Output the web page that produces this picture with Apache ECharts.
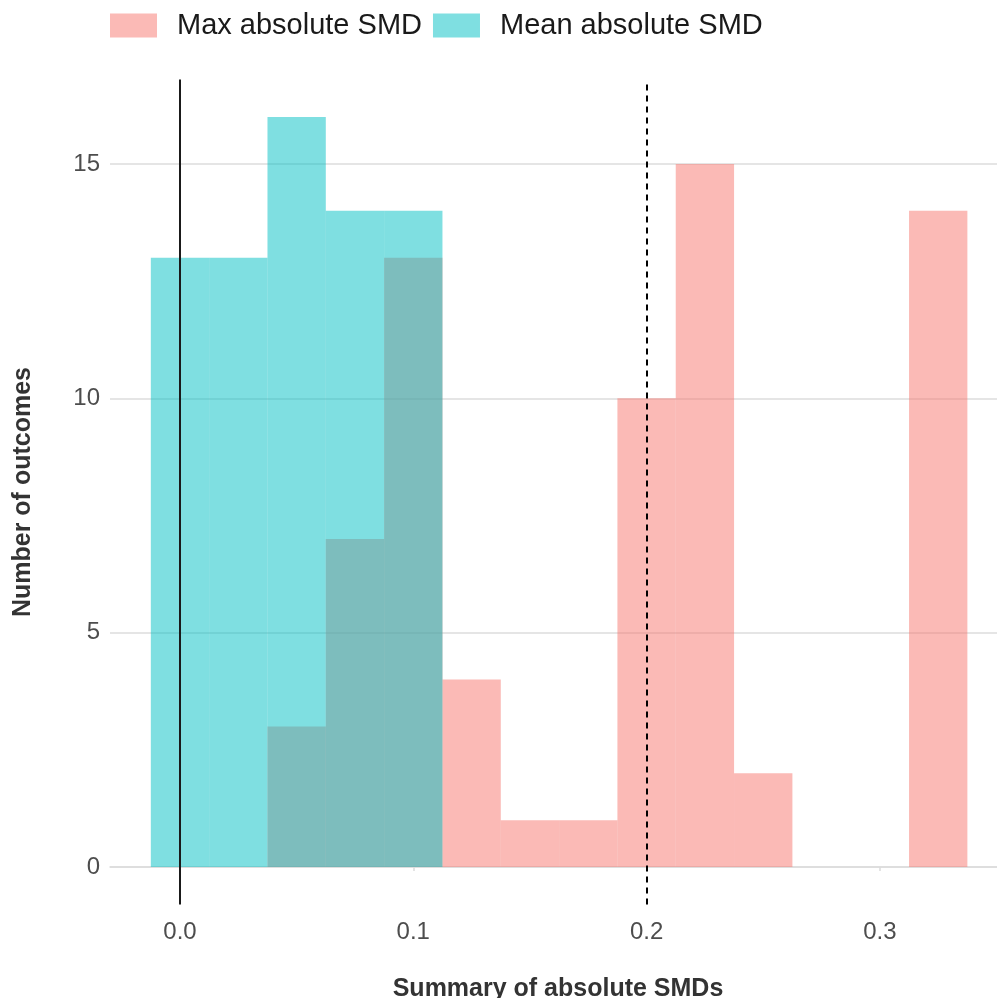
<!DOCTYPE html>
<html>
<head>
<meta charset="utf-8">
<script src="https://cdn.jsdelivr.net/npm/echarts@6/dist/echarts.min.js"></script>
<style>
  html, body { margin: 0; padding: 0; background: #fff; }
  #chart { width: 997px; height: 998px; }
</style>
</head>
<body>
<div id="chart"></div>
<script>
// histogram bins (centres), binwidth 0.025
const BIN_WIDTH = 0.025;
const maxCenters = [0.05, 0.075, 0.1, 0.125, 0.15, 0.175, 0.2, 0.225, 0.25, 0.275, 0.3, 0.325];
const maxCounts = [3, 7, 13, 4, 1, 1, 10, 15, 2, 0, 0, 14];
const meanCenters = [0, 0.025, 0.05, 0.075, 0.1];
const meanCounts = [13, 13, 16, 14, 14];

const xTicks = [0, 0.1, 0.2, 0.3];
const yTicks = [0, 5, 10, 15];
const refLines = [0, 0.2];

const seriesNames = ['Max absolute SMD', 'Mean absolute SMD'];
const FONT = '"Liberation Sans", Arial, sans-serif';

function histData(centers, counts) {
  return centers.map((c, i) => [c - BIN_WIDTH / 2, c + BIN_WIDTH / 2, counts[i]]);
}

function renderBin(params, api) {
  const x0 = api.value(0);
  const x1 = api.value(1);
  const n = api.value(2);
  if (!n) {
    return null;
  }
  const p0 = api.coord([x0, 0]);
  const p1 = api.coord([x1, n]);
  return {
    type: 'rect',
    shape: { x: p0[0], y: p1[1], width: p1[0] - p0[0], height: p0[1] - p1[1] },
    style: { fill: api.visual('color') }
  };
}

const chart = echarts.init(document.getElementById('chart'), null, { renderer: 'canvas' });

chart.setOption({
  animation: false,
  backgroundColor: '#ffffff',
  textStyle: { fontFamily: FONT },
  legend: {
    left: 110,
    top: 11,
    padding: 0,
    itemWidth: 47,
    itemHeight: 24,
    itemGap: 11,
    icon: 'rect',
    data: seriesNames,
    textStyle: { fontSize: 29, color: '#1a1a1a', fontFamily: FONT, padding: [0, 0, 0, 15] }
  },
  grid: {
    left: 110,
    right: 0,
    top: 79.6,
    bottom: 93.5,
    containLabel: false,
    outerBoundsMode: 'none'
  },
  xAxis: {
    type: 'value',
    min: -0.03,
    max: 0.3502,
    name: 'Summary of absolute SMDs',
    nameLocation: 'middle',
    nameGap: 72,
    nameTextStyle: { fontSize: 25, fontWeight: 'bold', color: '#333333', fontFamily: FONT, padding: [0, 0, 0, 9] },
    axisLine: { show: true, lineStyle: { color: '#dcdcdc', width: 1.5 } },
    axisTick: { show: true, length: 4, customValues: xTicks, lineStyle: { color: '#dcdcdc', width: 1.5 } },
    axisLabel: {
      customValues: xTicks,
      formatter: (v) => Number(v).toFixed(1),
      fontSize: 24,
      color: '#4d4d4d',
      margin: 16,
      fontFamily: FONT
    },
    splitLine: { show: false }
  },
  yAxis: {
    type: 'value',
    min: -0.8,
    max: 16.8,
    name: 'Number of outcomes',
    nameLocation: 'middle',
    nameGap: 74,
    nameRotate: 90,
    nameTextStyle: { fontSize: 25, fontWeight: 'bold', color: '#333333', fontFamily: FONT },
    axisLine: { show: false },
    axisTick: { show: false, customValues: yTicks },
    axisLabel: {
      customValues: yTicks,
      fontSize: 24,
      color: '#4d4d4d',
      margin: 10,
      fontFamily: FONT
    },
    splitLine: { show: true, lineStyle: { color: '#dcdcdc', width: 1.5 } }
  },
  series: [
    {
      name: seriesNames[0],
      type: 'custom',
      renderItem: renderBin,
      itemStyle: { color: 'rgba(248, 118, 109, 0.5)' },
      encode: { x: [0, 1], y: 2 },
      data: histData(maxCenters, maxCounts),
      z: 2
    },
    {
      name: seriesNames[1],
      type: 'custom',
      renderItem: renderBin,
      itemStyle: { color: 'rgba(0, 191, 196, 0.5)' },
      encode: { x: [0, 1], y: 2 },
      data: histData(meanCenters, meanCounts),
      z: 3,
      markLine: {
        silent: true,
        symbol: 'none',
        label: { show: false },
        z: 5,
        data: [
          { xAxis: refLines[0], lineStyle: { color: '#1a1a1a', width: 2, type: 'solid' } },
          { xAxis: refLines[1], lineStyle: { color: '#000000', width: 2, type: [6, 5] } }
        ]
      }
    }
  ]
});
</script>
</body>
</html>
